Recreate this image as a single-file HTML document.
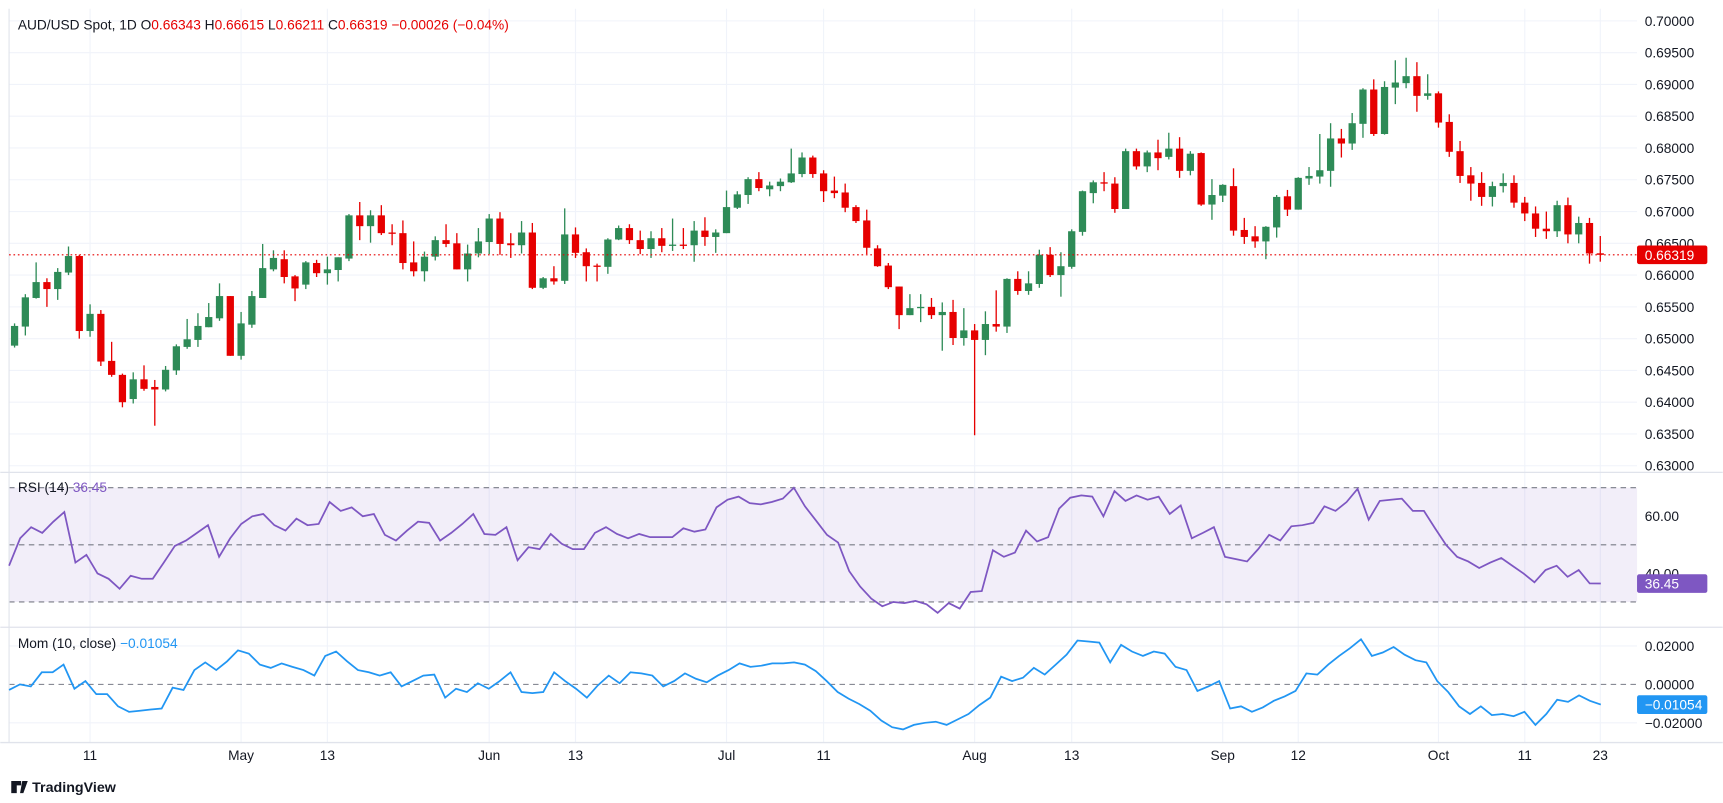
<!DOCTYPE html>
<html><head><meta charset="utf-8"><style>
html,body{margin:0;padding:0;background:#fff;}
svg{display:block;font-family:"Liberation Sans",sans-serif;}
</style></head>
<body>
<svg id="chart" width="1723" height="803" viewBox="0 0 1568 731" xmlns="http://www.w3.org/2000/svg">
<rect x="0" y="0" width="1568" height="731" fill="#fff"/>
<g id="grid"></g>
<g id="panes"></g>
<g id="candles"></g>
<g id="ind"></g>
<g id="axes"></g>
<text x="16" y="27" font-size="12.5" fill="#131722">AUD/USD Spot, 1D <tspan fill="#131722"> O</tspan><tspan fill="#e60000">0.66343</tspan><tspan fill="#131722"> H</tspan><tspan fill="#e60000">0.66615</tspan><tspan fill="#131722"> L</tspan><tspan fill="#e60000">0.66211</tspan><tspan fill="#131722"> C</tspan><tspan fill="#e60000">0.66319 −0.00026 (−0.04%)</tspan></text>
<text x="16" y="448" font-size="12.5" fill="#131722">RSI (14) <tspan fill="#7e57c2">36.45</tspan></text>
<text x="16" y="590" font-size="12.5" fill="#131722">Mom (10, close) <tspan fill="#2196f3">−0.01054</tspan></text>
<g>
<path d="M10 711h9v4h-4v7h-5z M20 711h5l-4 11h-3z" fill="#131722"/>
<text x="29" y="721" font-size="13" font-weight="bold" fill="#131722">TradingView</text>
</g>
</svg>
<script>
const opens=[.6489,.6519,.6564,.6589,.6578,.6604,.6630,.6512,.6539,.6465,.6443,.6405,.6436,.6424,.6420,.6450,.6487,.6498,.6518,.6532,.6567,.6473,.6522,.6564,.6609,.6625,.6598,.6585,.6619,.6603,.6608,.6626,.6694,.6677,.6694,.6667,.6666,.6620,.6606,.6629,.6655,.6650,.6609,.6634,.6652,.6689,.6650,.6647,.6667,.6580,.6595,.6591,.6664,.6636,.6615,.6613,.6656,.6674,.6655,.6641,.6658,.6647,.6648,.6647,.6670,.6660,.6666,.6706,.6726,.6751,.6735,.6740,.6746,.6759,.6785,.6760,.6733,.6730,.6707,.6686,.6642,.6615,.6582,.6537,.6549,.6550,.6537,.6542,.6501,.6513,.6498,.6523,.6519,.6594,.6575,.6586,.6632,.6600,.6613,.6668,.6729,.6746,.6744,.6704,.6795,.6771,.6793,.6786,.6799,.6764,.6792,.6711,.6725,.6740,.6671,.6661,.6653,.6675,.6724,.6703,.6752,.6755,.6764,.6815,.6807,.6838,.6892,.6822,.6895,.6902,.6913,.6882,.6886,.6841,.6795,.6757,.6745,.6723,.6740,.6745,.6714,.6697,.6673,.6669,.6710,.6664,.6682,.66343];
const highs=[.6524,.6570,.6620,.6595,.6611,.6645,.6632,.6554,.6545,.6495,.6445,.6447,.6458,.6435,.6457,.6491,.6531,.6540,.6556,.6587,.6567,.6542,.6575,.6649,.6639,.6639,.6600,.6622,.6624,.6629,.6628,.6696,.6715,.6702,.6710,.6680,.6686,.6653,.6637,.6661,.6680,.6666,.6648,.6674,.6696,.6699,.6666,.6685,.6682,.6597,.6614,.6705,.6675,.6642,.6618,.6658,.6678,.6680,.6670,.6669,.6674,.6689,.6674,.6685,.6691,.6672,.6733,.6732,.6754,.6762,.6747,.6752,.6799,.6793,.6788,.6765,.6755,.6744,.6710,.6703,.6647,.6619,.6582,.6570,.6570,.6564,.6557,.6561,.6548,.6523,.6543,.6576,.6595,.6606,.6606,.6640,.6644,.6636,.6672,.6733,.6749,.6762,.6754,.6799,.6799,.6796,.6813,.6824,.6817,.6795,.6793,.6751,.6743,.6768,.6690,.6677,.6677,.6726,.6734,.6754,.6770,.6822,.6839,.6830,.6855,.6894,.6908,.6905,.6938,.6942,.6935,.6916,.6889,.6853,.6811,.6770,.6762,.6747,.6760,.6757,.6723,.6708,.6700,.6717,.6722,.6692,.6690,.66615];
const lows=[.6486,.6505,.6563,.6550,.6561,.6600,.6500,.6503,.6457,.6440,.6392,.6398,.6418,.6363,.6417,.6443,.6484,.6487,.6518,.6528,.6473,.6467,.6517,.6564,.6606,.6587,.6559,.6578,.6597,.6585,.6590,.6622,.6655,.6651,.6663,.6647,.6609,.6598,.6590,.6623,.6644,.6609,.6590,.6628,.6633,.6632,.6627,.6634,.6578,.6578,.6585,.6586,.6627,.6590,.6590,.6602,.6655,.6649,.6633,.6627,.6636,.6638,.6641,.6621,.6646,.6635,.6666,.6704,.6712,.6732,.6724,.6732,.6745,.6754,.6753,.6715,.6721,.6699,.6682,.6633,.6613,.6578,.6515,.6537,.6526,.6531,.6481,.6490,.6489,.6348,.6474,.6511,.6509,.6569,.6569,.6580,.6597,.6566,.6610,.6662,.6713,.6732,.6698,.6704,.6766,.6762,.6765,.6782,.6753,.6757,.6709,.6687,.6715,.6662,.6649,.6643,.6625,.6659,.6693,.6703,.6742,.6744,.6739,.6785,.6797,.6816,.6819,.6821,.6869,.6894,.6857,.6876,.6832,.6786,.6745,.6717,.6709,.6708,.6730,.6706,.6685,.6660,.6657,.6660,.6650,.6650,.6618,.66211];
const closes=[.6520,.6565,.6589,.6578,.6605,.6630,.6512,.6539,.6464,.6443,.6400,.6436,.6421,.6420,.6451,.6488,.6499,.6520,.6534,.6567,.6473,.6524,.6567,.6611,.6627,.6597,.6579,.6620,.6603,.6609,.6628,.6694,.6677,.6694,.6666,.6665,.6619,.6606,.6629,.6655,.6649,.6609,.6634,.6653,.6689,.6649,.6647,.6667,.6580,.6595,.6590,.6664,.6635,.6614,.6613,.6656,.6674,.6655,.6641,.6658,.6646,.6648,.6647,.6670,.6660,.6667,.6707,.6727,.6751,.6737,.6741,.6747,.6760,.6785,.6759,.6732,.6729,.6706,.6685,.6643,.6614,.6581,.6537,.6548,.6550,.6537,.6542,.6501,.6513,.6498,.6523,.6519,.6594,.6575,.6587,.6632,.6600,.6614,.6669,.6732,.6746,.6744,.6704,.6795,.6771,.6793,.6784,.6799,.6764,.6791,.6711,.6726,.6742,.6670,.6660,.6653,.6676,.6723,.6703,.6753,.6756,.6765,.6815,.6807,.6839,.6892,.6822,.6896,.6903,.6913,.6882,.6886,.6840,.6794,.6756,.6744,.6723,.6740,.6745,.6714,.6697,.6673,.6669,.6710,.6664,.6682,.6634,.66319];
const rsiValues=[42.7,52.3,56.2,54.2,58.1,61.5,43.8,46.5,40,38.1,34.6,39.2,38.1,38.1,43.8,49.6,51.5,54.2,56.9,45.8,52.3,57.3,60,60.8,56.9,55,59.2,56.9,57.3,65,61.9,63.1,60,60.8,53.5,51.5,55,58.1,57.7,51.5,54.2,57.3,60.8,53.8,53.5,56.2,44.6,49.2,48.5,53.8,50.4,48.5,48.5,54.2,56.2,53.8,52.3,53.8,52.7,52.7,52.7,55.8,54.6,55.4,63.1,65.8,66.9,64.6,64.2,65,66.2,70,63.5,58.5,53.5,50.8,40.8,35.4,31.2,28.5,30,29.6,30.4,29.2,26.2,29.6,27.7,33.5,33.8,48.1,45.8,47.3,55,51.2,52.7,62.7,66.5,67.3,66.9,60,68.8,65.4,67.3,65.8,66.9,60.8,63.8,52.3,54.2,56.2,45.8,45,44.2,48.5,53.5,51.5,56.5,56.9,57.7,63.5,61.9,65,69.6,58.8,65.4,65.8,66.2,61.9,61.9,55.8,50,45.8,44.2,41.9,43.8,45.4,42.7,40,36.9,41.2,42.7,38.8,41.2,36.5,36.45];
const momValues=[-0.0029,0,-0.0011,0.0063,0.0063,0.0103,-0.0023,0.0017,-0.0051,-0.0051,-0.0114,-0.0143,-0.0137,-0.0131,-0.0126,-0.0017,-0.0029,0.0074,0.0114,0.0074,0.012,0.0177,0.016,0.0103,0.0086,0.0109,0.0091,0.0074,0.0046,0.0148,0.0171,0.012,0.0074,0.0063,0.0046,0.0063,-0.0011,0.0017,0.0046,0.0051,-0.0069,-0.0023,-0.004,0.0006,-0.0023,0.0017,0.0063,-0.004,-0.0046,-0.004,0.0063,0.0017,-0.0023,-0.0069,-0.0006,0.0046,0.0006,0.0063,0.0057,0.0046,-0.0011,0.0017,0.0057,0.0029,0.0011,0.0046,0.0074,0.0109,0.0091,0.0097,0.0109,0.0109,0.0114,0.0103,0.0069,0.0017,-0.004,-0.0074,-0.0103,-0.0137,-0.0188,-0.0223,-0.0234,-0.0211,-0.02,-0.0194,-0.0211,-0.0183,-0.0154,-0.0108,-0.0069,0.004,0.0017,0.0034,0.0086,0.0051,0.0103,0.0154,0.0228,0.0223,0.0217,0.0114,0.0206,0.0171,0.0148,0.0171,0.016,0.0091,0.0074,-0.0034,-0.0011,0.0017,-0.0126,-0.0114,-0.0143,-0.012,-0.0086,-0.0063,-0.0034,0.0057,0.0051,0.0103,0.0148,0.0188,0.0234,0.0148,0.0166,0.0194,0.0154,0.0126,0.0114,0.0017,-0.004,-0.0114,-0.0154,-0.0114,-0.016,-0.0154,-0.0166,-0.0143,-0.0211,-0.0154,-0.008,-0.0091,-0.0057,-0.0086,-0.01054];
const priceTicks=[0.70,0.695,0.69,0.685,0.68,0.675,0.67,0.665,0.66,0.655,0.65,0.645,0.64,0.635,0.63];
const rsiTicks=[60,40];
const momTicks=[0.02,0,-0.02];
const xLabels=["11","May","13","Jun","13","Jul","11","Aug","13","Sep","12","Oct","11","23"];
const xLabelIdx=[7,21,29,44,52,66,75,89,98,112,119,132,140,147];
const lastPrice=0.66319, lastRsi=36.45, lastMom=-0.01054;

const NS="http://www.w3.org/2000/svg";
const X0=13, DX=9.82, AXX=1490;
function xOf(i){return X0+i*DX;}
function yP(p){return 19+(0.70-p)/0.07*405;}
function yR(v){return 496-(v-50)*2.6;}
function yM(v){return 623-v*1750;}
function mk(tag,attrs,parent){const e=document.createElementNS(NS,tag);for(const k in attrs)e.setAttribute(k,attrs[k]);parent.appendChild(e);return e;}
const G=document.getElementById('grid'),P=document.getElementById('panes'),C=document.getElementById('candles'),I=document.getElementById('ind'),A=document.getElementById('axes');

// horizontal price grid + labels
priceTicks.forEach(p=>{
  const l=mk('line',{x1:8,x2:AXX,y1:yP(p),y2:yP(p),stroke:'#f0f3fa','stroke-width':1},G);
  
  
  const t=mk('text',{x:1497,y:yP(p)+4.5,'font-size':12.5,fill:'#131722'},A);
  t.textContent=p.toFixed(5);
  
  
});
// vertical grid + x labels
xLabelIdx.forEach((ix,k)=>{
  const x=xOf(ix);
  const l=mk('line',{x1:x,x2:x,y1:8,y2:676,stroke:'#f0f3fa','stroke-width':1},G);
  
  
  const t=mk('text',{x:x,y:692,'font-size':12.5,fill:'#131722','text-anchor':'middle'},A);
  t.textContent=xLabels[k];
  
  
});
// RSI grid + band
const band=mk('rect',{x:8,y:yR(70),width:AXX-8,height:yR(30)-yR(70),fill:'#7e57c2','fill-opacity':0.1},P);


[70,50,30].forEach(v=>{
  const l=mk('line',{x1:8,x2:AXX,y1:yR(v),y2:yR(v),stroke:'#787b86','stroke-width':1,'stroke-dasharray':'5,4'},P);
  
  
});
rsiTicks.forEach(v=>{
  const t=mk('text',{x:1497,y:yR(v)+4.5,'font-size':12.5,fill:'#131722'},A);
  t.textContent=v.toFixed(2);
  
  
});
momTicks.forEach(v=>{
  const l=mk('line',{x1:8,x2:AXX,y1:yM(v),y2:yM(v),stroke:v===0?'#787b86':'#f0f3fa','stroke-width':1,'stroke-dasharray':v===0?'5,4':'none'},P);
  
  
  const t=mk('text',{x:1497,y:yM(v)+4.5,'font-size':12.5,fill:'#131722'},A);
  t.textContent=(v<0?'−':'')+Math.abs(v).toFixed(5);
  
  
});
// pane separators
[430,571,676].forEach(y=>{
  const l=mk('line',{x1:0,x2:1568,y1:y,y2:y,stroke:'#e0e3eb','stroke-width':1.2},P);
  
  
});
const vb=mk('line',{x1:8,x2:8,y1:8,y2:676,stroke:'#e0e3eb','stroke-width':1},P);



// candles
for(let i=0;i<closes.length;i++){
  const up=closes[i]>=opens[i];
  const col=up?'#2e8b57':'#e60000';
  const x=xOf(i);
  const g=mk('g',{},C);
  
  
  mk('line',{x1:x,x2:x,y1:yP(highs[i]),y2:yP(lows[i]),stroke:col,'stroke-width':1.2},g);
  const top=yP(Math.max(opens[i],closes[i])), bot=yP(Math.min(opens[i],closes[i]));
  mk('rect',{x:x-3.3,y:top,width:6.6,height:Math.max(1.2,bot-top),fill:col},g);
}
// last price line + box
const lp=mk('line',{x1:8,x2:AXX,y1:yP(lastPrice),y2:yP(lastPrice),stroke:'#e60000','stroke-width':1,'stroke-dasharray':'1.5,2.5'},I);


function box(y,color,txt,name){
  const g=mk('g',{},A);
  
  
  mk('rect',{x:AXX,y:y-8.5,width:64,height:17,rx:2,fill:color},g);
  const t=mk('text',{x:1497,y:y+4.5,'font-size':12.5,fill:'#fff'},g);
  t.textContent=txt;
}
// RSI line
const nR=rsiValues.length;
let d='';
rsiValues.forEach((v,i)=>{const x=8+i*(1449/(nR-1));d+=(i?'L':'M')+x.toFixed(1)+' '+yR(v).toFixed(1);});
const rl=mk('path',{d:d,fill:'none',stroke:'#7e57c2','stroke-width':1.6},I);


// Mom line
const nM=momValues.length;
d='';
momValues.forEach((v,i)=>{const x=8+i*(1449/(nM-1));d+=(i?'L':'M')+x.toFixed(1)+' '+yM(v).toFixed(1);});
const ml=mk('path',{d:d,fill:'none',stroke:'#2196f3','stroke-width':1.6},I);



box(yP(lastPrice),'#e60000',lastPrice.toFixed(5),'last-price-label');
box(yR(lastRsi),'#7e57c2',lastRsi.toFixed(2),'rsi-value-label');
box(yM(lastMom),'#2196f3','−'+Math.abs(lastMom).toFixed(5),'mom-value-label');
</script>
</body></html>
